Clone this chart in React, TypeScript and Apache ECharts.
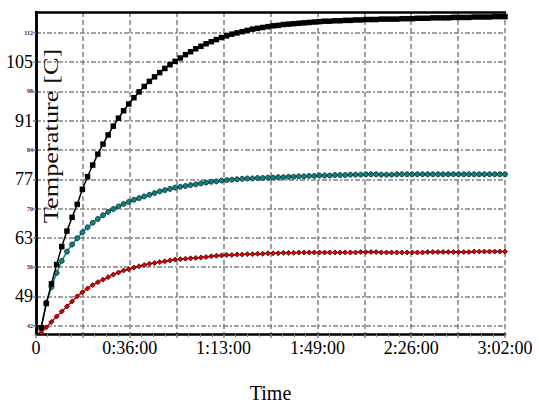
import React, { useEffect, useRef } from "react";
import * as echarts from "echarts";

// time in minutes
const times = [
  2, 4, 6, 8, 10, 12, 14, 16, 18, 20, 22, 24, 26, 28, 30, 32, 34, 36, 38, 40,
  42, 44, 46, 48, 50, 52, 54, 56, 58, 60, 62, 64, 66, 68, 70, 72, 74, 76, 78, 80,
  82, 84, 86, 88, 90, 92, 94, 96, 98, 100, 102, 104, 106, 108, 110, 112, 114, 116, 118, 120,
  122, 124, 126, 128, 130, 132, 134, 136, 138, 140, 142, 144, 146, 148, 150, 152, 154, 156, 158, 160,
  162, 164, 166, 168, 170, 172, 174, 176, 178, 180, 182,
];

const blackSeries = [
  41.5, 47.3, 52.0, 56.6, 60.9, 64.6, 67.9, 71.0, 74.6, 77.6, 80.4, 83.0, 85.4, 87.6, 89.7, 91.6, 93.4, 95.0, 96.5, 97.9,
  99.2, 100.4, 101.5, 102.5, 103.5, 104.4, 105.2, 106.0, 106.8, 107.5, 108.2, 108.8, 109.4, 109.9, 110.4, 110.9, 111.3, 111.7, 112.0, 112.3,
  112.6, 112.9, 113.1, 113.3, 113.5, 113.7, 113.8, 114.0, 114.1, 114.2, 114.3, 114.4, 114.5, 114.6, 114.7, 114.8, 114.8, 114.9, 114.9, 115.0,
  115.0, 115.1, 115.1, 115.2, 115.2, 115.2, 115.3, 115.3, 115.3, 115.3, 115.4, 115.4, 115.4, 115.5, 115.5, 115.5, 115.6, 115.6, 115.6, 115.6,
  115.7, 115.7, 115.7, 115.7, 115.8, 115.8, 115.8, 115.8, 115.9, 115.9, 115.9,
];

const tealSeries = [
  41.5, 47.5, 51.2, 54.6, 57.5, 59.7, 61.4, 62.9, 64.3, 65.5, 66.6, 67.5, 68.4, 69.2, 69.9, 70.5, 71.1, 71.6, 72.1, 72.5,
  72.9, 73.3, 73.7, 74.1, 74.4, 74.7, 75.0, 75.2, 75.4, 75.6, 75.8, 76.0, 76.2, 76.4, 76.5, 76.7, 76.8, 76.9, 77.0, 77.1,
  77.2, 77.2, 77.3, 77.3, 77.4, 77.4, 77.5, 77.5, 77.6, 77.6, 77.7, 77.7, 77.8, 77.8, 77.9, 77.9, 77.9, 78.0, 78.0, 78.0,
  78.1, 78.1, 78.1, 78.2, 78.2, 78.2, 78.1, 78.1, 78.1, 78.2, 78.2, 78.2, 78.2, 78.2, 78.2, 78.2, 78.2, 78.2, 78.2, 78.2,
  78.2, 78.2, 78.2, 78.2, 78.2, 78.2, 78.2, 78.2, 78.2, 78.2, 78.2,
];

const redSeries = [
  40.3, 41.6, 42.9, 44.2, 45.4, 46.6, 47.8, 49.0, 50.0, 50.9, 51.7, 52.4, 53.0, 53.6, 54.2, 54.7, 55.2, 55.5, 55.9, 56.2,
  56.5, 56.8, 57.0, 57.2, 57.4, 57.6, 57.8, 57.9, 58.0, 58.1, 58.2, 58.3, 58.4, 58.6, 58.7, 58.8, 58.9, 58.9, 59.0, 59.0,
  59.1, 59.1, 59.2, 59.2, 59.3, 59.3, 59.3, 59.4, 59.4, 59.4, 59.5, 59.5, 59.5, 59.5, 59.5, 59.5, 59.5, 59.5, 59.5, 59.5,
  59.5, 59.5, 59.6, 59.6, 59.6, 59.6, 59.5, 59.5, 59.5, 59.5, 59.5, 59.5, 59.5, 59.5, 59.5, 59.6, 59.6, 59.6, 59.6, 59.6,
  59.6, 59.6, 59.6, 59.6, 59.7, 59.7, 59.7, 59.7, 59.7, 59.7, 59.7,
];

const yTicks = [42, 49, 56, 63, 70, 77, 84, 91, 98, 105, 112];
const yBigLabels = [49, 63, 77, 91, 105];

const SERIF = "'Liberation Serif', 'DejaVu Serif', serif";

function fmtTime(v: number, idx: number): string {
  if (idx % 2 === 1) return "";
  if (v === 0) return "0";
  const m = Math.round(v);
  const h = Math.floor(m / 60);
  const mm = m % 60;
  return `${h}:${mm < 10 ? "0" + mm : mm}:00`;
}

export default function App() {
  const ref = useRef<HTMLDivElement>(null);
  useEffect(() => {
    if (!ref.current) return;
    const chart = echarts.init(ref.current, null, { renderer: "svg" });
    const pts = (arr: number[]) => times.map((t, i) => [t, arr[i]]);
    chart.setOption({
      animation: false,
      backgroundColor: "#ffffff",
      grid: { left: 36, right: 34, top: 12, bottom: 68 },
      xAxis: [
        {
          type: "value",
          min: 0,
          max: 182,
          interval: 18.2,
          axisLine: { lineStyle: { color: "#000", width: 2.5 } },
          axisTick: { show: true, length: 4, lineStyle: { color: "#808080", width: 1.5 } },
          minorTick: { show: true, splitNumber: 4, length: 3, lineStyle: { color: "#808080", width: 1 } },
          axisLabel: {
            formatter: fmtTime,
            fontFamily: SERIF,
            fontSize: 18,
            color: "#000",
            margin: 5,
            hideOverlap: false,
          },
          splitLine: { show: true, lineStyle: { color: "#808080", width: 1.5, type: [5, 3] } },
          name: "Time",
          nameLocation: "middle",
          nameGap: 49,
          nameTextStyle: { fontFamily: SERIF, fontSize: 20, color: "#000" },
        },
        {
          type: "value",
          position: "top",
          min: 0,
          max: 182,
          interval: 18.2,
          axisLine: { show: true, lineStyle: { color: "#000", width: 2.5 } },
          axisTick: { show: false },
          axisLabel: { show: false },
          splitLine: { show: false },
        },
      ],
      yAxis: [
        {
          type: "value",
          min: 40,
          max: 117,
          axisLine: { show: true, lineStyle: { color: "#000", width: 2.5 } },
          axisTick: { show: true, length: 3, customValues: yTicks, lineStyle: { color: "#808080", width: 1.5 } },
          axisLabel: {
            customValues: yTicks,
            margin: 3,
            formatter: (v: number) =>
              yBigLabels.indexOf(Math.round(v)) >= 0 ? `{big|${Math.round(v)}}` : `{small|${Math.round(v)}}`,
            rich: {
              big: { fontFamily: SERIF, fontSize: 18, color: "#000" },
              small: { fontFamily: SERIF, fontSize: 6, color: "#3c1450", fontWeight: "bold" },
            },
          },
          splitLine: { show: true, lineStyle: { color: "#808080", width: 1.5, type: [5, 2, 2, 2] } },
        },
        {
          type: "value",
          position: "right",
          min: 40,
          max: 117,
          axisLine: { show: true, lineStyle: { color: "#000", width: 2.5, type: [2, 1.5] } },
          axisTick: { show: false },
          axisLabel: { show: false },
          splitLine: { show: false },
        },
      ],
      graphic: [
        {
          type: "text",
          x: 51,
          y: 136,
          rotation: Math.PI / 2,
          scaleX: 1.32,
          style: {
            text: "Temperature [C]",
            fontFamily: SERIF,
            fontSize: 20,
            fill: "#111",
            align: "center",
            verticalAlign: "middle",
          },
          z: 100,
        },
      ],
      series: [
        {
          type: "line",
          data: pts(redSeries),
          symbol: "diamond",
          symbolSize: 5,
          showAllSymbol: true,
          lineStyle: { color: "#e00000", width: 1.5 },
          itemStyle: { color: "#e00000", borderColor: "#300000", borderWidth: 0.8 },
          z: 3,
        },
        {
          type: "line",
          data: pts(tealSeries),
          symbol: "circle",
          symbolSize: 5,
          showAllSymbol: true,
          lineStyle: { color: "#108080", width: 1.5 },
          itemStyle: { color: "#108080", borderColor: "#0a2a2a", borderWidth: 0.8 },
          z: 4,
        },
        {
          type: "line",
          data: pts(blackSeries),
          symbol: "rect",
          symbolSize: 5.5,
          showAllSymbol: true,
          lineStyle: { color: "#000", width: 1.5 },
          itemStyle: { color: "#000" },
          z: 5,
        },
      ],
    });
    return () => chart.dispose();
  }, []);
  return <div ref={ref} style={{ width: 539, height: 408, position: "absolute", left: 0, top: 0 }} />;
}
